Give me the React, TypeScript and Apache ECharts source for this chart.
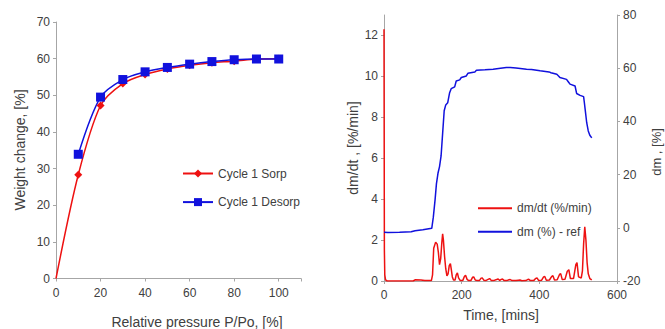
import React, { useEffect, useRef } from "react";
import * as echarts from "echarts";

// Left chart: sorption isotherm
const pressure = [0, 10, 20, 30, 40, 50, 60, 70, 80, 90, 100];
const sorpValues = [0, 28.3, 47.2, 53.2, 55.7, 57.2, 58.2, 58.9, 59.3, 59.9, 60.0];
const desorpPressure = [10, 20, 30, 40, 50, 60, 70, 80, 90, 100];
const desorpValues = [33.9, 49.5, 54.3, 56.4, 57.6, 58.5, 59.2, 59.7, 59.9, 59.9];
const leftXTicks = [0, 20, 40, 60, 80, 100];

// Right chart: kinetics  [time (mins), value]
const dmdtData: [number, number][] = [
  [0, 12.3], [1, 1.5], [2, 0.3], [4, 0.05], [8, 0.0], [75, 0.0], [80, 0.06], [95, 0.05], [105, 0.02], [122, 0.02],
  [125, 0.3], [128, 1.6], [133, 1.9], [137, 1.8], [140, 1.4], [143, 0.8], [146, 1.1], [149, 1.9], [151, 2.3], [153, 2.0],
  [156, 1.2], [159, 0.6], [162, 0.25], [165, 0.35], [168, 0.75], [171, 0.85], [173, 0.6], [176, 0.2], [179, 0.05], [183, 0.05],
  [186, 0.3], [189, 0.4], [192, 0.15], [196, 0.03], [203, 0.03], [207, 0.22], [210, 0.28], [214, 0.08], [218, 0.02], [224, 0.03],
  [228, 0.18], [231, 0.2], [235, 0.05], [240, 0.02], [246, 0.03], [250, 0.14], [253, 0.15], [257, 0.04], [262, 0.02], [268, 0.08],
  [272, 0.12], [276, 0.03], [282, 0.02], [290, 0.07], [294, 0.1], [298, 0.03], [302, 0.08], [305, 0.1], [309, 0.03], [316, 0.02],
  [322, 0.06], [325, 0.07], [330, 0.02], [340, 0.02], [346, 0.04], [350, 0.05], [355, 0.01], [365, 0.02], [370, 0.07], [373, 0.08],
  [377, 0.02], [386, 0.03], [391, 0.13], [394, 0.15], [398, 0.03], [406, 0.04], [411, 0.2], [414, 0.22], [418, 0.04], [426, 0.05],
  [432, 0.23], [435, 0.26], [439, 0.05], [446, 0.06], [452, 0.32], [455, 0.36], [459, 0.07], [466, 0.08], [472, 0.48], [476, 0.55],
  [480, 0.12], [488, 0.12], [494, 0.8], [497, 0.9], [501, 0.2], [508, 0.15], [511, 0.5], [514, 1.8], [517, 2.65], [520, 2.0],
  [523, 0.9], [526, 0.35], [530, 0.12], [535, 0.05],
];
const dmData: [number, number][] = [
  [0, -1.7], [10, -1.8], [40, -1.7], [70, -1.5], [80, -1.1], [100, -0.7], [123, -0.2], [127, 4], [131.5, 10.5], [135, 16.5],
  [139, 20.5], [143, 23], [147, 27], [151, 35.5], [155, 44], [159, 46.2], [164, 47], [169, 50.8], [173, 52.3], [182, 53],
  [186, 55.2], [195, 55.6], [199, 56.5], [212, 57.1], [216, 58.1], [234, 58.6], [238, 59.2], [260, 59.4], [281, 59.6], [300, 60.0],
  [315, 60.3], [325, 60.3], [340, 60.1], [367, 59.6], [380, 59.5], [402, 59.0], [425, 58.6], [430, 58.3], [445, 57.7], [450, 57.0],
  [453, 56.5], [470, 55.8], [474, 55.0], [479, 54.0], [492, 53.3], [496, 50.5], [505, 49.8], [514, 49.3], [516, 47], [518, 44.5],
  [522, 39.5], [526, 36.4], [530, 34.8], [535, 33.8],
];

const FONT = "'Liberation Sans', Arial, sans-serif";
const TXT = "#404040";
const AXIS = "#a6a6a6";
const RED = "#ee1111";
const BLUE = "#1111dd";

export default function App() {
  const ref = useRef<HTMLDivElement>(null);
  useEffect(() => {
    if (!ref.current) return;
    const chart = echarts.init(ref.current, undefined, { renderer: "svg" });
    const axisLabel = { color: TXT, fontSize: 12, fontFamily: FONT };
    const axisLine = { show: true, lineStyle: { color: AXIS, width: 1 } };
    const axisTick = { show: true, length: 3, lineStyle: { color: AXIS } };
    chart.setOption({
      animation: false,
      textStyle: { fontFamily: FONT },
      grid: [
        { left: 56, right: 364, top: 22, bottom: 50.5, containLabel: false },
        { left: 384, right: 48, top: 15, bottom: 48, containLabel: false },
      ],
      legend: [
        {
          data: ["Cycle 1 Sorp", "Cycle 1 Desorp"],
          orient: "vertical",
          left: 177,
          top: 161.5,
          itemWidth: 30,
          itemHeight: 10,
          itemGap: 14.6,
          textStyle: { color: TXT, fontSize: 12, lineHeight: 14, fontFamily: FONT },
        },
        {
          data: ["dm/dt (%/min)", "dm (%) - ref"],
          orient: "vertical",
          left: 473,
          top: 196.3,
          icon: "rect",
          itemWidth: 34,
          itemHeight: 2,
          itemGap: 9.4,
          textStyle: { color: TXT, fontSize: 12, lineHeight: 14, fontFamily: FONT },
        },
      ],
      xAxis: [
        {
          type: "value",
          gridIndex: 0,
          min: 0,
          max: 110,
          interval: 20,
          splitLine: { show: false },
          axisLine,
          axisTick,
          axisLabel: {
            ...axisLabel,
            margin: 8,
            formatter: (v: number) => (leftXTicks.includes(v) ? String(v) : ""),
          },
        },
        {
          type: "value",
          gridIndex: 1,
          min: 0,
          max: 600,
          interval: 200,
          splitLine: { show: false },
          axisLine,
          axisTick,
          axisLabel: { ...axisLabel, margin: 8 },
        },
      ],
      yAxis: [
        {
          type: "value",
          gridIndex: 0,
          min: 0,
          max: 70,
          interval: 10,
          splitLine: { show: false },
          axisLine,
          axisTick,
          axisLabel: { ...axisLabel, margin: 6 },
        },
        {
          type: "value",
          gridIndex: 1,
          min: 0,
          max: 13,
          interval: 2,
          splitLine: { show: false },
          axisLine,
          axisTick,
          axisLabel: { ...axisLabel, margin: 6, showMaxLabel: false },
        },
        {
          type: "value",
          gridIndex: 1,
          position: "right",
          min: -20,
          max: 80,
          interval: 20,
          splitLine: { show: false },
          axisLine,
          axisTick,
          axisLabel: { ...axisLabel, margin: 6 },
        },
      ],
      graphic: [
        {
          type: "text",
          x: 20,
          y: 150,
          rotation: Math.PI / 2,
          style: { text: "Weight change, [%]", fill: TXT, fontSize: 14, fontFamily: FONT, align: "center", verticalAlign: "middle" },
        },
        {
          type: "text",
          x: 197,
          y: 322,
          style: { text: "Relative pressure P/Po, [%]", fill: TXT, fontSize: 14, fontFamily: FONT, align: "center", verticalAlign: "middle" },
        },
        {
          type: "text",
          x: 353,
          y: 148,
          rotation: Math.PI / 2,
          style: { text: "dm/dt , [%/min]", fill: TXT, fontSize: 14, fontFamily: FONT, align: "center", verticalAlign: "middle" },
        },
        {
          type: "text",
          x: 656,
          y: 152,
          rotation: Math.PI / 2,
          style: { text: "dm , [%]", fill: TXT, fontSize: 13, fontFamily: FONT, align: "center", verticalAlign: "middle" },
        },
        {
          type: "text",
          x: 501,
          y: 315,
          style: { text: "Time, [mins]", fill: TXT, fontSize: 14, fontFamily: FONT, align: "center", verticalAlign: "middle" },
        },
      ],
      series: [
        {
          name: "Cycle 1 Sorp",
          type: "line",
          xAxisIndex: 0,
          yAxisIndex: 0,
          smooth: 0.3,
          symbol: "diamond",
          symbolSize: 8,
          color: RED,
          lineStyle: { color: RED, width: 1.5 },
          itemStyle: { color: RED },
          data: pressure.map((p, i) => (i === 0 ? { value: [p, sorpValues[i]], symbol: "none" } : [p, sorpValues[i]])),
        },
        {
          name: "Cycle 1 Desorp",
          type: "line",
          xAxisIndex: 0,
          yAxisIndex: 0,
          smooth: 0.3,
          symbol: "rect",
          symbolSize: 9,
          color: BLUE,
          lineStyle: { color: BLUE, width: 1.5 },
          itemStyle: { color: BLUE },
          data: desorpPressure.map((p, i) => [p, desorpValues[i]]),
        },
        {
          name: "dm/dt (%/min)",
          type: "line",
          xAxisIndex: 1,
          yAxisIndex: 1,
          symbol: "none",
          color: RED,
          lineStyle: { color: RED, width: 1.5 },
          data: dmdtData,
        },
        {
          name: "dm (%) - ref",
          type: "line",
          xAxisIndex: 1,
          yAxisIndex: 2,
          symbol: "none",
          color: BLUE,
          lineStyle: { color: BLUE, width: 1.5 },
          data: dmData,
        },
      ],
    });
    return () => chart.dispose();
  }, []);
  return <div ref={ref} style={{ width: 665, height: 329, position: "absolute", left: 0, top: 0 }} />;
}
